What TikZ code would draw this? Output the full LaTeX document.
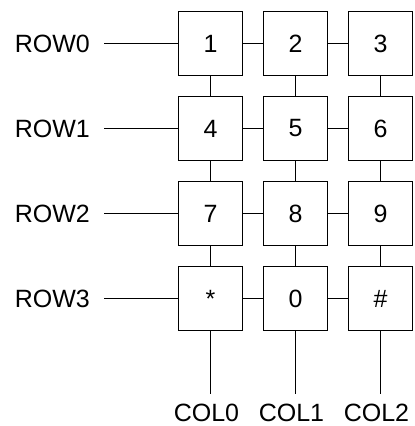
\documentclass[tikz,border=0pt]{standalone}
\usepackage{fontspec}
\setmainfont{Liberation Sans}
\begin{document}
\begin{tikzpicture}[x=1pt,y=-1pt,
  key/.style={draw, line width=1.7pt, minimum width=64pt, minimum height=64pt, inner sep=0pt, font=\fontsize{25}{29}\selectfont},
  lbl/.style={inner sep=0pt, font=\fontsize{25}{29}\selectfont},
  wire/.style={line width=1.7pt}]
\useasboundingbox (0,0) rectangle (415,426);
% keys
\foreach \t [count=\i from 0] in {1,2,3,4,5,6,7,8,9,*,0,\#}{
  \pgfmathtruncatemacro\r{int(\i/3)}
  \pgfmathtruncatemacro\c{mod(\i,3)}
  \node[key] (k\r\c) at ({210.5+85*\c},{43.5+85*\r}) {\t};
}
% row labels
\foreach \r in {0,1,2,3}{
  \node[lbl, anchor=east] (row\r) at (90,{43.5+85*\r}) {ROW\r};
  \coordinate (rs\r) at (104,{43.5+85*\r});
  \draw[wire] (rs\r) -- (k\r0.west);
  \draw[wire] (k\r0.east) -- (k\r1.west);
  \draw[wire] (k\r1.east) -- (k\r2.west);
}
% columns
\foreach \c in {0,1,2}{
  \draw[wire] (k0\c.south) -- (k1\c.north);
  \draw[wire] (k1\c.south) -- (k2\c.north);
  \draw[wire] (k2\c.south) -- (k3\c.north);
  \coordinate (ce\c) at ({210.5+85*\c},394);
  \draw[wire] (k3\c.south) -- (ce\c);
  \node[lbl, anchor=base] (col\c) at ({206.5+85*\c},421) {COL\c};
}
\end{tikzpicture}
\end{document}
